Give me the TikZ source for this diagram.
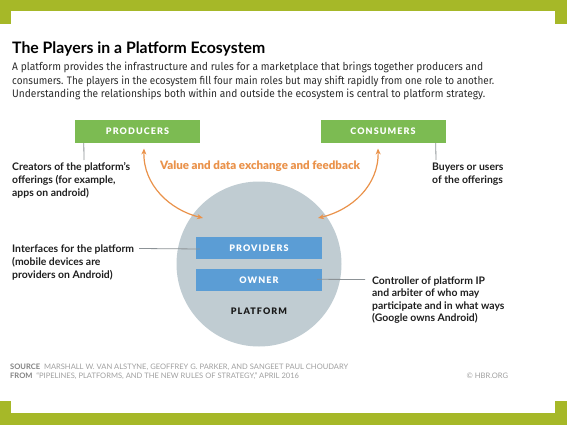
\documentclass[tikz,border=0pt]{standalone}
\usepackage{fontspec}
\usepackage{graphicx}
\setmainfont{Lato}
\newfontfamily\bodyfont{Fira Sans}
\newfontfamily\heavyfont{Lato Black}
\newfontfamily\capsfont{Lato Black}[LetterSpace=12]
\usetikzlibrary{arrows.meta,calc}
\definecolor{band}{RGB}{166,184,40}
\definecolor{boxgreen}{RGB}{124,187,82}
\definecolor{boxblue}{RGB}{91,157,213}
\definecolor{platgrey}{RGB}{192,204,210}
\definecolor{accent}{RGB}{234,146,74}
\definecolor{leadgrey}{RGB}{140,146,150}
\definecolor{bodytext}{RGB}{45,45,45}
\definecolor{foot}{RGB}{160,160,160}
\definecolor{footdark}{RGB}{130,130,130}
\newcommand{\fitline}[2]{\resizebox{#1}{\height}{#2}}
\tikzset{
  ttl/.style={anchor=base west, inner sep=0pt, font=\fontsize{15.8}{18}\selectfont\bfseries, text=black},
  bodyline/.style={anchor=base west, inner sep=0pt, font=\bodyfont\fontsize{10.9}{13}\selectfont, text=bodytext},
  lbl/.style={anchor=base west, inner sep=0pt, font=\fontsize{10.4}{13}\selectfont\bfseries, text=black!88},
  rolebox/.style={minimum width=125pt, minimum height=23pt, inner sep=0pt, text=white, font=\capsfont\fontsize{9}{10}\selectfont},
  leader/.style={draw=leadgrey, line width=0.8pt},
  flow/.style={draw=accent, line width=1.2pt, {Stealth[length=6pt,width=5pt]}-{Stealth[length=6pt,width=5pt]}},
  footline/.style={anchor=base west, inner sep=0pt, font=\fontsize{7.55}{9}\selectfont, text=foot},
}
\begin{document}
\begin{tikzpicture}[x=1pt,y=-1pt]
\useasboundingbox (0,0) rectangle (567,425);
% frame
\fill[band] (0,0) rectangle (567,24);
\fill[band] (0,401) rectangle (567,425);
\fill[white] (11,11) rectangle (555,413);
% title and intro
\node[ttl] (title) at (12,53.3) {The Players in a Platform Ecosystem};
\node[bodyline] (b1) at (12,71) {\fitline{471pt}{A platform provides the infrastructure and rules for a marketplace that brings together producers and}};
\node[bodyline] (b2) at (12,84.5) {\fitline{482pt}{consumers. The players in the ecosystem fill four main roles but may shift rapidly from one role to another.}};
\node[bodyline] (b3) at (12,98) {\fitline{473pt}{Understanding the relationships both within and outside the ecosystem is central to platform strategy.}};
% platform circle
\node[circle, fill=platgrey, minimum size=165pt, inner sep=0pt] (plat) at (259,264) {};
% role boxes
\node[rolebox, fill=boxgreen] (prod) at (137.5,131.5) {PRODUCERS};
\node[rolebox, fill=boxgreen] (cons) at (383,131.5) {CONSUMERS};
\node[rolebox, fill=boxblue, minimum width=126pt, minimum height=22pt] (prov) at (259,248.3) {PROVIDERS};
\node[rolebox, fill=boxblue, minimum width=126pt, minimum height=22pt] (own) at (259,280) {OWNER};
\node[inner sep=0pt, font=\capsfont\fontsize{9}{10}\selectfont, text=black!90] (platlbl) at (259,311.7) {PLATFORM};
% exchange label
\node[inner sep=0pt, font=\heavyfont\fontsize{11.5}{12}\selectfont, text=accent] (xch) at (260,166.7) {Value and data exchange and feedback};
% flows
\coordinate (pa1) at (144,148.5);
\coordinate (pa2) at (203,218);
\coordinate (ca1) at (378,148.5);
\coordinate (ca2) at (318,218);
\draw[flow] (pa1) .. controls (143,185) and (170,210) .. (pa2);
\draw[flow] (ca1) .. controls (379,185) and (352,210) .. (ca2);
% side labels
\node[lbl] (pl1) at (12,170.7) {Creators of the platform’s};
\node[lbl] (pl2) at (12,183.7) {offerings (for example,};
\node[lbl] (pl3) at (12,196.5) {apps on android)};
\node[lbl] (cl1) at (432,170.7) {Buyers or users};
\node[lbl] (cl2) at (432,183.7) {of the offerings};
\node[lbl] (vl1) at (12,252) {Interfaces for the platform};
\node[lbl] (vl2) at (12,265.3) {(mobile devices are};
\node[lbl] (vl3) at (12,278.6) {providers on Android)};
\node[lbl] (ol1) at (372,284) {Controller of platform IP};
\node[lbl] (ol2) at (372,296.5) {and arbiter of who may};
\node[lbl] (ol3) at (372,309) {participate and in what ways};
\node[lbl] (ol4) at (372,321.5) {(Google owns Android)};
% leaders
\coordinate (pe) at (84,160);
\coordinate (ce) at (436,160);
\draw[leader] ($(prod.south west)+(9,0)$) -- (pe);
\draw[leader] ($(cons.south east)+(-10,0)$) -- (ce);
\draw[leader] ($(vl1.base east)+(5,-3.5)$) -- ($(prov.west)+(4,0.7)$);
\draw[leader] ($(own.east)+(-5,-0.7)$) -- ($(ol1.base west)+(-7,-4.5)$);
% footer
\node[footline] (s1) at (10,369.5) {\textcolor{footdark}{\bfseries SOURCE}\ \ MARSHALL W. VAN ALSTYNE, GEOFFREY G. PARKER, AND SANGEET PAUL CHOUDARY};
\node[footline] (s2) at (10,378.5) {\textcolor{footdark}{\bfseries FROM}\ \ “PIPELINES, PLATFORMS, AND THE NEW RULES OF STRATEGY,” APRIL 2016};
\node[footline] (hbr) at (466.5,378.5) {© HBR.ORG};
\end{tikzpicture}
\end{document}
